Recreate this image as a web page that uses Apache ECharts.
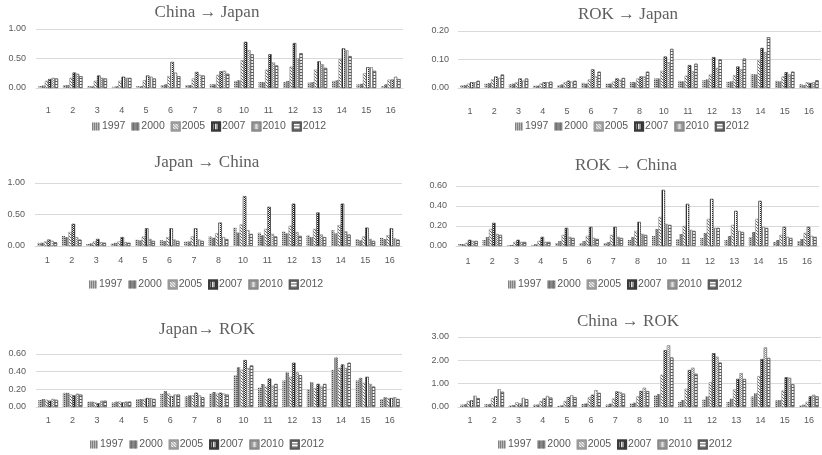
<!DOCTYPE html>
<html>
<head>
<meta charset="utf-8">
<script src="https://cdn.jsdelivr.net/npm/echarts@6/dist/echarts.min.js"></script>
<style>
  html, body { margin: 0; padding: 0; background: #ffffff; }
  #chart { width: 822px; height: 455px; }
</style>
</head>
<body>
<div id="chart"></div>
<script>
// Industry categories (9 is absent) and survey years
const categories = ['1','2','3','4','5','6','7','8','10','11','12','13','14','15','16'];
const years = ['1997','2000','2005','2007','2010','2012'];

// One row per year, one value per category
const chinaToJapan = [
  [0.03,0.05,0.03,0.02,0.03,0.05,0.05,0.06,0.12,0.10,0.10,0.09,0.12,0.06,0.03],
  [0.04,0.05,0.03,0.03,0.03,0.06,0.05,0.06,0.13,0.10,0.12,0.10,0.13,0.07,0.06],
  [0.12,0.17,0.12,0.12,0.13,0.20,0.16,0.22,0.47,0.31,0.36,0.31,0.49,0.25,0.14],
  [0.15,0.26,0.21,0.19,0.21,0.44,0.27,0.28,0.78,0.57,0.76,0.45,0.67,0.35,0.14],
  [0.17,0.24,0.17,0.17,0.19,0.26,0.22,0.29,0.64,0.43,0.50,0.40,0.64,0.35,0.19],
  [0.16,0.20,0.16,0.17,0.16,0.20,0.21,0.24,0.57,0.38,0.59,0.34,0.54,0.29,0.15]
];
const rokToJapan = [
  [0.010,0.015,0.013,0.008,0.010,0.018,0.015,0.020,0.033,0.025,0.027,0.022,0.048,0.025,0.013],
  [0.010,0.017,0.015,0.008,0.012,0.015,0.015,0.020,0.033,0.023,0.030,0.023,0.048,0.023,0.010],
  [0.015,0.030,0.020,0.015,0.020,0.030,0.022,0.033,0.060,0.043,0.047,0.045,0.098,0.040,0.020],
  [0.020,0.040,0.033,0.020,0.025,0.065,0.033,0.040,0.110,0.080,0.108,0.075,0.140,0.055,0.017],
  [0.020,0.035,0.025,0.020,0.022,0.040,0.028,0.040,0.090,0.058,0.070,0.065,0.125,0.047,0.020],
  [0.025,0.047,0.033,0.022,0.025,0.057,0.035,0.057,0.137,0.085,0.100,0.103,0.178,0.057,0.027]
];
const japanToChina = [
  [0.05,0.16,0.03,0.04,0.10,0.09,0.07,0.15,0.29,0.21,0.23,0.17,0.25,0.11,0.13],
  [0.05,0.14,0.04,0.05,0.09,0.08,0.07,0.13,0.21,0.17,0.20,0.14,0.20,0.09,0.11],
  [0.07,0.22,0.07,0.07,0.15,0.14,0.15,0.20,0.34,0.27,0.32,0.27,0.33,0.15,0.17],
  [0.10,0.35,0.11,0.14,0.28,0.28,0.28,0.37,0.79,0.62,0.67,0.53,0.67,0.29,0.28],
  [0.08,0.14,0.06,0.06,0.11,0.10,0.10,0.14,0.25,0.19,0.22,0.18,0.23,0.11,0.12],
  [0.06,0.10,0.05,0.05,0.08,0.08,0.08,0.11,0.19,0.15,0.16,0.14,0.18,0.08,0.10]
];
const rokToChina = [
  [0.02,0.06,0.01,0.01,0.03,0.03,0.03,0.06,0.10,0.07,0.08,0.06,0.09,0.04,0.05],
  [0.02,0.09,0.01,0.02,0.05,0.05,0.04,0.09,0.17,0.12,0.13,0.10,0.14,0.06,0.07],
  [0.03,0.17,0.04,0.05,0.11,0.10,0.11,0.15,0.29,0.20,0.27,0.21,0.27,0.11,0.13],
  [0.06,0.23,0.06,0.09,0.18,0.19,0.19,0.24,0.56,0.42,0.47,0.35,0.45,0.19,0.19],
  [0.05,0.12,0.04,0.04,0.09,0.08,0.09,0.12,0.22,0.16,0.18,0.15,0.19,0.09,0.10],
  [0.05,0.11,0.04,0.04,0.08,0.07,0.08,0.11,0.21,0.15,0.18,0.14,0.18,0.08,0.09]
];
const japanToRok = [
  [0.08,0.16,0.06,0.05,0.09,0.15,0.12,0.15,0.36,0.22,0.30,0.20,0.42,0.30,0.09],
  [0.09,0.16,0.06,0.06,0.09,0.18,0.13,0.17,0.45,0.26,0.39,0.28,0.56,0.33,0.11],
  [0.08,0.14,0.05,0.06,0.09,0.15,0.13,0.15,0.42,0.23,0.34,0.21,0.44,0.27,0.10],
  [0.07,0.13,0.04,0.05,0.10,0.12,0.16,0.16,0.53,0.32,0.50,0.26,0.48,0.34,0.10],
  [0.09,0.15,0.07,0.06,0.10,0.14,0.13,0.15,0.44,0.24,0.39,0.23,0.44,0.26,0.11],
  [0.08,0.14,0.07,0.06,0.09,0.14,0.11,0.14,0.47,0.26,0.36,0.26,0.50,0.23,0.09]
];
const chinaToRok = [
  [0.10,0.12,0.07,0.10,0.05,0.13,0.10,0.15,0.50,0.22,0.32,0.22,0.45,0.28,0.07],
  [0.12,0.12,0.08,0.10,0.07,0.15,0.14,0.18,0.55,0.30,0.45,0.35,0.58,0.30,0.10],
  [0.25,0.38,0.20,0.25,0.25,0.42,0.36,0.45,1.38,0.78,1.06,0.75,1.32,0.70,0.22],
  [0.28,0.45,0.14,0.36,0.42,0.52,0.66,0.68,2.43,1.58,2.30,1.20,2.05,1.27,0.45],
  [0.48,0.76,0.39,0.47,0.50,0.72,0.64,0.82,2.64,1.68,2.15,1.45,2.55,1.25,0.52],
  [0.38,0.65,0.33,0.40,0.42,0.60,0.57,0.68,2.12,1.42,1.90,1.20,2.10,0.97,0.45]
];

const panelTitles = ['China \u2192 Japan', 'ROK \u2192 Japan', 'Japan \u2192 China', 'ROK \u2192 China', 'Japan\u2192 ROK', 'China \u2192 ROK'];
const panelData = [chinaToJapan, rokToJapan, japanToChina, rokToChina, japanToRok, chinaToRok];
const axisMax = [1.0, 0.2, 1.0, 0.6, 0.6, 3.0];
const axisStep = [0.5, 0.1, 0.5, 0.2, 0.2, 1.0];

// Panel geometry: plot box, label offsets, title and legend anchors
const layout = [
  { left: 36,  top: 29,  width: 367, height: 59, xMargin: 18, yMargin: 10, tx: 207, ty: 13,  lx: 92,  ly: 121 },
  { left: 458, top: 31,  width: 363, height: 57, xMargin: 19, yMargin: 9,  tx: 628, ty: 15,  lx: 515, ly: 121 },
  { left: 35,  top: 183, width: 367, height: 63, xMargin: 10, yMargin: 10, tx: 207, ty: 163, lx: 89,  ly: 279 },
  { left: 456, top: 186, width: 363, height: 60, xMargin: 11, yMargin: 9,  tx: 626, ty: 166, lx: 508, ly: 279 },
  { left: 36,  top: 354, width: 366, height: 53, xMargin: 9,  yMargin: 10, tx: 207, ty: 330, lx: 90,  ly: 439 },
  { left: 458, top: 337, width: 363, height: 70, xMargin: 9,  yMargin: 9,  tx: 628, ty: 322, lx: 498, ly: 439 }
];

// Fill patterns, one per year, in the style of monochrome Excel hatches
const checker1 = [[1, 1], [0, 1, 1]];
const diagonal3 = [[1, 2], [0, 1, 1, 1], [0, 2, 1, 0]];
const yearStyles = [
  { color: '#b8b8b8', decal: { symbol: 'rect', symbolSize: 1, dashArrayX: [1, 1], dashArrayY: [1, 1], color: '#4d4d4d' } },
  { color: '#9a9a9a', decal: { symbol: 'rect', symbolSize: 1, dashArrayX: checker1, dashArrayY: [1, 0], color: '#666666' } },
  { color: '#ffffff', decal: { symbol: 'rect', symbolSize: 1, dashArrayX: diagonal3, dashArrayY: [1, 0], color: '#6a6a6a' }, borderColor: '#9a9a9a', borderWidth: 0.4 },
  { color: '#ffffff', decal: { symbol: 'rect', symbolSize: 1, dashArrayX: checker1, dashArrayY: [1, 0], color: '#262626' }, borderColor: '#3a3a3a', borderWidth: 0.4 },
  { color: '#ffffff', decal: { symbol: 'rect', symbolSize: 1, dashArrayX: checker1, dashArrayY: [1, 0], color: '#8a8a8a' }, borderColor: '#8a8a8a', borderWidth: 0.5 },
  { color: '#ffffff', decal: { symbol: 'rect', symbolSize: 1, dashArrayX: [1, 0], dashArrayY: [1, 2], color: '#5a5a5a' }, borderColor: '#5a5a5a', borderWidth: 0.6 }
];

const textGray = '#595959';
const lineGray = '#d9d9d9';

const grids = [], xAxes = [], yAxes = [], series = [], legends = [], graphics = [];

layout.forEach((g, p) => {
  grids.push({ left: g.left, top: g.top, width: g.width, height: g.height, containLabel: false });
  xAxes.push({
    type: 'category', gridIndex: p, data: categories,
    axisTick: { show: false },
    axisLine: { lineStyle: { color: lineGray, width: 1 } },
    axisLabel: { interval: 0, margin: g.xMargin, color: textGray, fontSize: 9, fontFamily: 'Liberation Sans' }
  });
  yAxes.push({
    type: 'value', gridIndex: p, min: 0, max: axisMax[p], interval: axisStep[p],
    axisLine: { show: false }, axisTick: { show: false },
    splitLine: { lineStyle: { color: lineGray, width: 1 } },
    axisLabel: { margin: g.yMargin, color: textGray, fontSize: 9, fontFamily: 'Liberation Sans',
      formatter: v => v.toFixed(2) }
  });
  years.forEach((yr, k) => {
    series.push({
      type: 'bar', name: yr, xAxisIndex: p, yAxisIndex: p,
      data: panelData[p][k],
      barGap: '0%', barCategoryGap: '20%',
      itemStyle: yearStyles[k],
      silent: true, animation: false
    });
  });
  legends.push({
    left: g.lx, top: g.ly, padding: 0, itemWidth: 8, itemHeight: 8, itemGap: 6,
    icon: 'rect', selectedMode: false, data: years,
    textStyle: { color: textGray, fontSize: 10.5, fontFamily: 'Liberation Sans', padding: [0, 0, 0, -3] }
  });
  graphics.push({
    type: 'text', x: g.tx, y: g.ty, silent: true,
    style: { text: panelTitles[p], textAlign: 'center', textVerticalAlign: 'middle',
      font: '17px "Liberation Serif"', fill: '#5f5f5f' }
  });
});

const chart = echarts.init(document.getElementById('chart'), null, { renderer: 'canvas' });
chart.setOption({
  animation: false,
  backgroundColor: '#ffffff',
  grid: grids, xAxis: xAxes, yAxis: yAxes,
  legend: legends, series: series,
  graphic: graphics
});
</script>
</body>
</html>
